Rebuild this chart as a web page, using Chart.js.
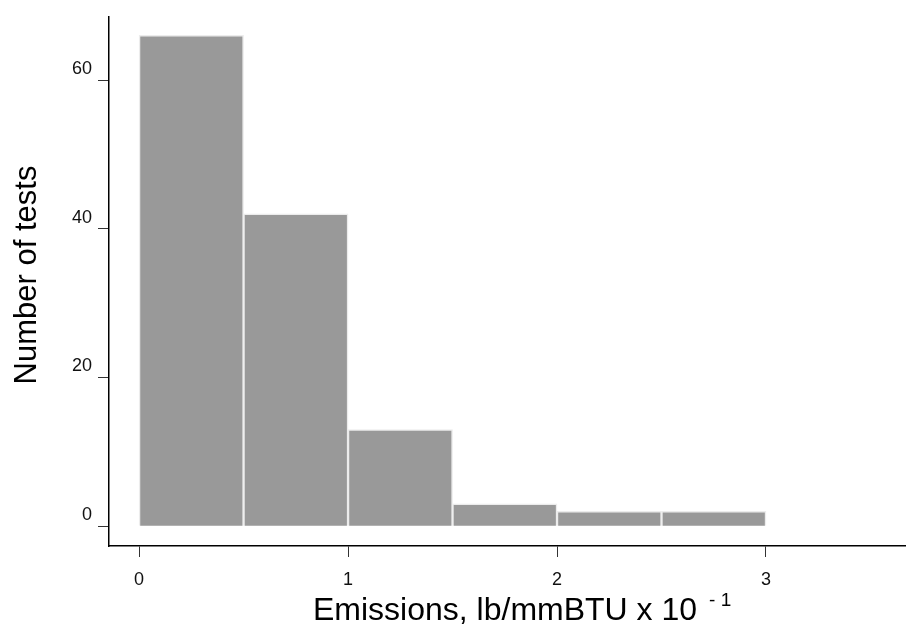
<!DOCTYPE html>
<html>
<head>
<meta charset="utf-8">
<script src="https://cdn.jsdelivr.net/npm/chart.js@4.4.0/dist/chart.umd.min.js"></script>
<style>
    html, body { margin: 0; padding: 0; background: #ffffff; }
    #wrap { width: 906px; height: 633px; position: relative; }
</style>
</head>
<body>
<div id="wrap"><canvas id="hist"></canvas></div>
<script>
// histogram bins (lower edge, lb/mmBTU x 10^-1) and counts
const binStarts = [0, 0.5, 1, 1.5, 2, 2.5];
const binWidth = 0.5;
const counts = [66, 42, 13, 3, 2, 2];

const xTicks = [0, 1, 2, 3];
const yTicks = [0, 20, 40, 60];

const xTitle = 'Emissions, lb/mmBTU x 10';
const xTitleSup = '- 1';
const yTitle = 'Number of tests';

const FONT = '"Liberation Sans", Arial, Helvetica, sans-serif';

const points = binStarts.map((s, i) => ({ x: s + binWidth / 2, y: counts[i] }));

const axisTitles = {
    id: 'axisTitles',
    afterDraw(chart) {
        const ctx = chart.ctx;
        ctx.save();
        ctx.fillStyle = '#000';

        // x title with superscript exponent
        ctx.textBaseline = 'alphabetic';
        ctx.textAlign = 'left';
        ctx.font = '32px ' + FONT;
        const mainW = ctx.measureText(xTitle).width;
        const x0 = 313;
        ctx.fillText(xTitle, x0, 620);
        ctx.font = '19px ' + FONT;
        ctx.fillText(xTitleSup, x0 + mainW + 12, 606);

        // y title, rotated
        ctx.translate(36, 275);
        ctx.rotate(-Math.PI / 2);
        ctx.font = '31px ' + FONT;
        ctx.textAlign = 'center';
        ctx.fillText(yTitle, 0, 0);
        ctx.restore();
    }
};

new Chart(document.getElementById('hist'), {
    type: 'bar',
    data: {
        datasets: [{
            data: points,
            backgroundColor: '#999999',
            borderColor: '#ececec',
            borderWidth: 1.5,
            barPercentage: 1,
            categoryPercentage: 1
        }]
    },
    options: {
        responsive: true,
        maintainAspectRatio: false,
        animation: false,
        layout: { padding: { top: 12, right: 0, left: 0, bottom: 0 } },
        plugins: {
            legend: { display: false },
            tooltip: { enabled: false }
        },
        scales: {
            x: {
                type: 'linear',
                offset: false,
                min: -0.144,
                max: 3.67,
                afterFit: (s) => { s.height = 87; },
                afterBuildTicks: (s) => { s.ticks = xTicks.map(v => ({ value: v })); },
                grid: {
                    offset: false,
                    drawOnChartArea: false,
                    drawTicks: true,
                    tickLength: 11,
                    color: '#333'
                },
                border: { display: true, color: '#000', width: 1.5 },
                ticks: {
                    color: '#111',
                    padding: 12,
                    maxRotation: 0,
                    font: { family: FONT, size: 18 }
                }
            },
            y: {
                min: -2.67,
                max: 68.5,
                afterFit: (s) => { s.width = 109; },
                afterBuildTicks: (s) => { s.ticks = yTicks.map(v => ({ value: v })); },
                grid: {
                    drawOnChartArea: false,
                    drawTicks: true,
                    tickLength: 11,
                    color: '#333'
                },
                border: { display: true, color: '#000', width: 1.5 },
                ticks: {
                    color: '#111',
                    padding: 6,
                    labelOffset: -11,
                    font: { family: FONT, size: 18 }
                }
            }
        }
    },
    plugins: [axisTitles]
});
</script>
</body>
</html>
